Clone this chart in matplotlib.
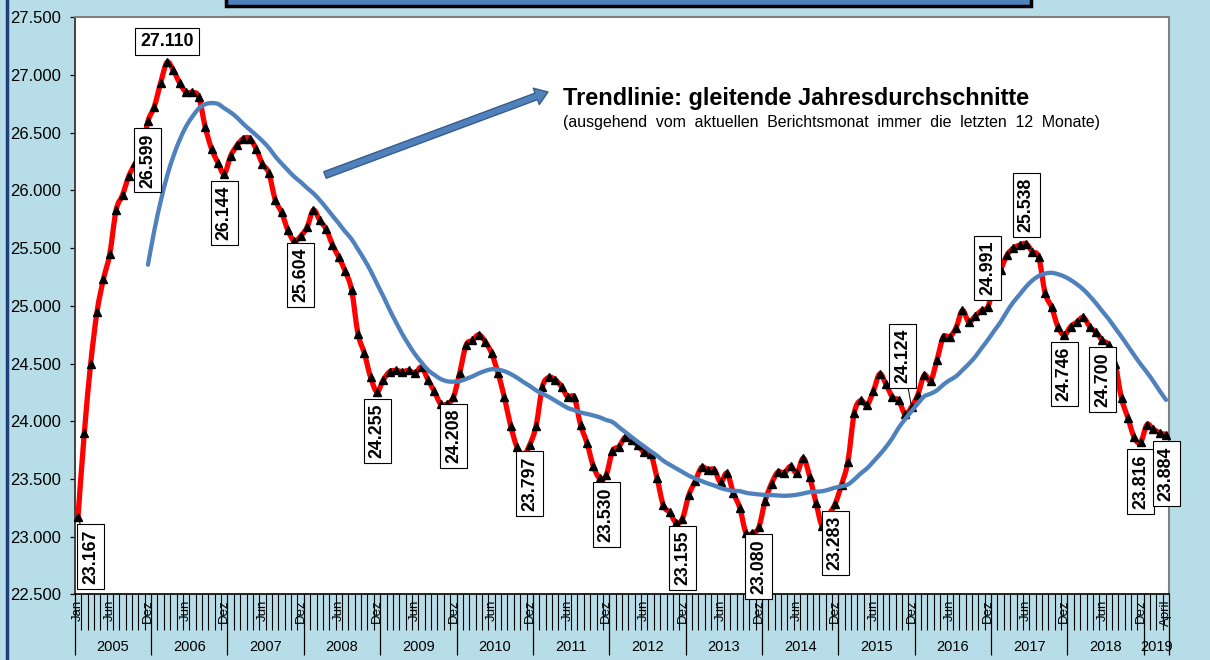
import numpy as np
import pandas as pd
import matplotlib
matplotlib.use("Agg")
import matplotlib.pyplot as plt
import matplotlib.transforms as mtransforms
from matplotlib.path import Path
from matplotlib.patches import PathPatch, FancyArrowPatch, Rectangle
from matplotlib.lines import Line2D
from matplotlib.ticker import FuncFormatter, MultipleLocator

plt.rcParams['font.family'] = ['Liberation Sans', 'DejaVu Sans']

# monthly values, Jan 2005 .. April 2019
values = [
    23167, 23900, 24500, 24950, 25230, 25450, 25830, 25960, 26125, 26235, 26330, 26599,  # 2005
    26726, 26934, 27110, 27040, 26930, 26850, 26850, 26810, 26550, 26360, 26240, 26144,  # 2006
    26300, 26390, 26450, 26450, 26360, 26230, 26150, 25920, 25810, 25655, 25560, 25604,  # 2007
    25680, 25830, 25740, 25665, 25530, 25420, 25300, 25140, 24760, 24590, 24380, 24255,  # 2008
    24360, 24430, 24440, 24430, 24440, 24415, 24470, 24360, 24260, 24150, 24150, 24208,  # 2009
    24420, 24660, 24700, 24750, 24690, 24590, 24420, 24210, 23960, 23775, 23700, 23797,  # 2010
    23960, 24300, 24380, 24360, 24300, 24207, 24207, 23967, 23810, 23610, 23505, 23530,  # 2011
    23740, 23780, 23860, 23840, 23790, 23730, 23720, 23510, 23270, 23210, 23120, 23155,  # 2012
    23360, 23480, 23600, 23580, 23580, 23470, 23550, 23380, 23250, 23030, 23030, 23080,  # 2013
    23310, 23460, 23560, 23550, 23610, 23550, 23680, 23520, 23290, 23090, 23190, 23283,  # 2014
    23450, 23650, 24070, 24180, 24140, 24260, 24410, 24320, 24210, 24180, 24060, 24124,  # 2015
    24230, 24400, 24350, 24530, 24730, 24730, 24810, 24960, 24860, 24910, 24960, 24991,  # 2016
    25180, 25310, 25440, 25500, 25527, 25538, 25470, 25420, 25110, 24990, 24820, 24746,  # 2017
    24820, 24860, 24900, 24820, 24770, 24700, 24660, 24500, 24200, 24030, 23860, 23816,  # 2018
    23970, 23930, 23900, 23884,                                                          # 2019
]
years = [2005, 2006, 2007, 2008, 2009, 2010, 2011, 2012, 2013, 2014, 2015, 2016, 2017, 2018, 2019]
month_labels = {0: 'Jan', 171: 'April'}
for k in range(14):
    month_labels[5 + 12 * k] = 'Jun'
    month_labels[11 + 12 * k] = 'Dez'

# points that carry a value box
label_idx = [0, 11, 14, 23, 35, 47, 59, 71, 83, 95, 107, 119, 131, 143, 149, 155, 161, 167, 171]

title = 'Trendlinie: gleitende Jahresdurchschnitte'
subtitle = '(ausgehend  vom  aktuellen  Berichtsmonat  immer  die  letzten  12  Monate)'

# label box offsets in pixels (dx, dy)
label_offset = {0: (13, -39), 14: (0, 21), 131: (-9, 51), 143: (0, 39), 149: (0, 39)}
leader = {0, 131}

x = np.arange(len(values))
y = np.array(values, dtype=float)
trend = pd.Series(y).rolling(12).mean()


def smooth_path(xs, ys):
    n = len(xs)
    verts = [(xs[0], ys[0])]
    codes = [Path.MOVETO]
    for k in range(n - 1):
        a = max(k - 1, 0)
        b = min(k + 2, n - 1)
        c1 = (xs[k] + (xs[k + 1] - xs[a]) / 6, ys[k] + (ys[k + 1] - ys[a]) / 6)
        c2 = (xs[k + 1] - (xs[b] - xs[k]) / 6, ys[k + 1] - (ys[b] - ys[k]) / 6)
        verts += [c1, c2, (xs[k + 1], ys[k + 1])]
        codes += [Path.CURVE4] * 3
    return Path(verts, codes)


def de(v, pos=None):
    return f"{int(round(v)):,}".replace(',', '.')


bg = '#B7DEE8'
fig = plt.figure(figsize=(12.1, 6.6), dpi=100, facecolor=bg)
ax = fig.add_axes([0.0618, 0.0995, 0.9045, 0.8742])
ax.set_facecolor('white')

ax.add_patch(PathPatch(smooth_path(x, y), fill=False, ec='#FF0000', lw=3.8,
                       capstyle='round', joinstyle='round', zorder=3))
ax.plot(x, y, ls='none', marker='^', ms=6, color='black', zorder=4, clip_on=False)
tm = trend.notna().to_numpy()
ax.add_patch(PathPatch(smooth_path(x[tm], trend[tm].to_numpy()), fill=False, ec='#4F81BD',
                       lw=3.1, capstyle='round', zorder=5))

ax.set_xlim(-0.5, len(values) - 0.5)
ax.set_ylim(22500, 27500)
ax.yaxis.set_major_locator(MultipleLocator(500))
ax.yaxis.set_major_formatter(FuncFormatter(de))
ax.tick_params(axis='y', direction='out', length=3.6, width=0.9, labelsize=12, pad=6, colors='black')

year_edges = list(np.arange(-0.5, len(values), 12)) + [len(values) - 0.5]
ax.set_xticks(year_edges)
ax.set_xticks(np.arange(-0.5, len(values), 1), minor=True)
ax.tick_params(axis='x', which='major', direction='out', length=44, width=0.9, labelbottom=False)
ax.tick_params(axis='x', which='minor', direction='out', length=26, width=0.8, labelbottom=False)

for s in ['top', 'right']:
    ax.spines[s].set_color('#808080')
    ax.spines[s].set_linewidth(1.5)
ax.spines['left'].set_color('#404040')
ax.spines['left'].set_linewidth(1.4)
ax.spines['bottom'].set_color('black')
ax.spines['bottom'].set_linewidth(1.2)

mtrans = mtransforms.offset_copy(ax.get_xaxis_transform(), fig=fig, y=-5, units='dots')
for i, name in month_labels.items():
    ax.text(i, 0, name, transform=mtrans, rotation=90, ha='center', va='top', fontsize=9.5)
ytrans = mtransforms.offset_copy(ax.get_xaxis_transform(), fig=fig, y=-53, units='dots')
for k, yr in enumerate(years):
    lo = year_edges[k]
    hi = year_edges[k + 1]
    ax.text((lo + hi) / 2, 0, str(yr), transform=ytrans, ha='center', va='center', fontsize=10.5)

for i in label_idx:
    dx, dy = label_offset.get(i, (0, -39))
    props = None
    if i in leader:
        props = dict(arrowstyle='-', color='black', lw=0.7, shrinkA=0, shrinkB=2)
    ax.annotate(de(values[i]), xy=(i, values[i]), xytext=(dx, dy), textcoords='offset pixels',
                rotation=0 if i == 14 else 90, ha='center', va='center',
                fontsize=12.8, fontweight='bold', arrowprops=props,
                bbox=dict(boxstyle='square,pad=0.28', fc='white', ec='black', lw=0.8), zorder=7)

# arrow and explanation
fig.add_artist(FancyArrowPatch((325 / 1210, 1 - 175 / 660), (548 / 1210, 1 - 92 / 660),
                               transform=fig.transFigure, shrinkA=0, shrinkB=0,
                               arrowstyle='simple,head_length=0.9,head_width=1.25,tail_width=0.5',
                               mutation_scale=10, fc='#4F81BD', ec='#385D8A', lw=1))
fig.text(563 / 1210, 1 - 98 / 660, title, fontsize=16.9, fontweight='bold', va='center', ha='left')
fig.text(563 / 1210, 1 - 122 / 660, subtitle, fontsize=11.4, va='center', ha='left')

# frame bits of the sheet
fig.add_artist(Rectangle((226 / 1210, 1 - 6 / 660), (1031 - 226) / 1210, 0.05,
                         transform=fig.transFigure, fc='#4F81BD', ec='black', lw=2.5))
fig.add_artist(Line2D([7 / 1210, 7 / 1210], [0, 1], transform=fig.transFigure, color='#1F3F78', lw=2.5))

fig.savefig('out.png', dpi=100, facecolor=bg)
